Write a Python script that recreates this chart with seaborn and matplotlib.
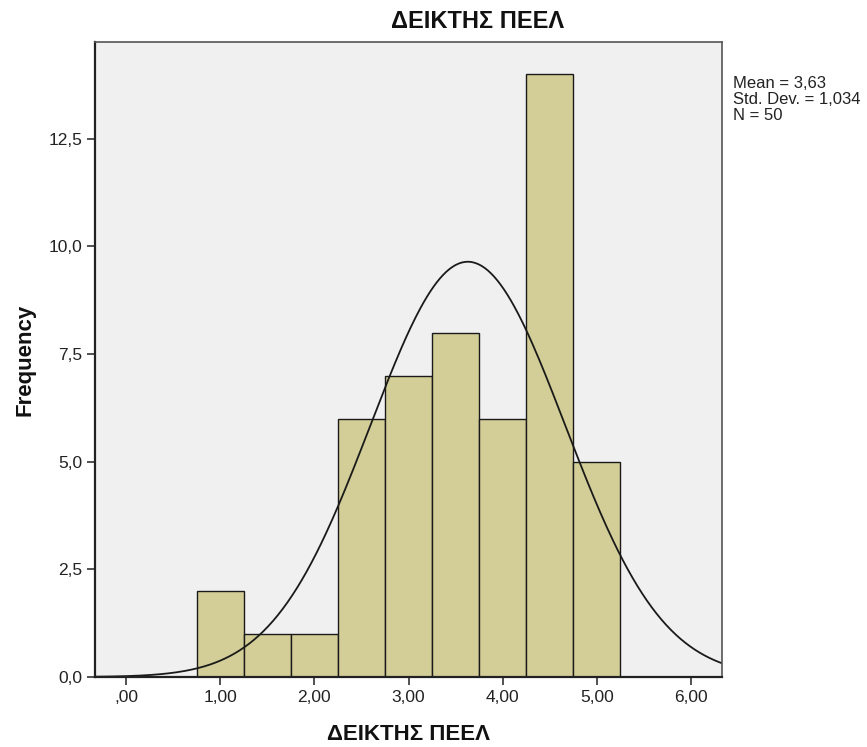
import numpy as np
import pandas as pd
import seaborn as sns
from matplotlib import pyplot as plt
from matplotlib.ticker import FuncFormatter

# bin centres and counts
centres = [1.0, 1.5, 2.0, 2.5, 3.0, 3.5, 4.0, 4.5, 5.0]
counts = [2, 1, 1, 6, 7, 8, 6, 14, 5]
edges = [0.75, 1.25, 1.75, 2.25, 2.75, 3.25, 3.75, 4.25, 4.75, 5.25]
mean, sd, n = 3.63, 1.034, 50

sns.set_style("white")
plt.rcParams['font.family'] = ['Liberation Sans', 'DejaVu Sans']

fig = plt.figure(figsize=(8.67, 7.47), dpi=100)
ax = fig.add_axes([95/867, 70/747, 627/867, 635/747])
ax.set_facecolor("#f0f0f0")

df = pd.DataFrame({"x": centres, "w": counts})
sns.histplot(data=df, x="x", weights="w", bins=edges, ax=ax,
             color="#d3ce97", alpha=1, edgecolor="#1a1a1a", linewidth=1)

xs = np.linspace(-0.4, 6.4, 400)
ys = n * 0.5 * np.exp(-0.5 * ((xs - mean) / sd) ** 2) / (sd * np.sqrt(2 * np.pi))
sns.lineplot(x=xs, y=ys, ax=ax, color="#1a1a1a", linewidth=1.3)

ax.set_xlim(-0.33, 6.33)
ax.set_ylim(0, 14.75)
ax.set_xticks([0, 1, 2, 3, 4, 5, 6])
ax.set_yticks([0, 2.5, 5, 7.5, 10, 12.5])


def xfmt(v, pos):
    s = f"{v:.2f}".replace(".", ",")
    return s[1:] if s.startswith("0") else s


ax.xaxis.set_major_formatter(FuncFormatter(xfmt))
ax.yaxis.set_major_formatter(FuncFormatter(lambda v, p: f"{v:.1f}".replace(".", ",")))
ax.tick_params(axis="both", direction="out", length=6, width=1.2, colors="#333333",
               labelsize=12.5, labelcolor="#222222", bottom=True, left=True, pad=3)

for side in ["left", "bottom"]:
    ax.spines[side].set_color("#222222")
    ax.spines[side].set_linewidth(1.6)
for side in ["top", "right"]:
    ax.spines[side].set_color("#555555")
    ax.spines[side].set_linewidth(1.2)

fig.text(478/867, 1 - 21/747, "ΔΕΙΚΤΗΣ ΠΕΕΛ", fontsize=17, fontweight="bold",
         ha="center", va="center", color="#111111")
ax.set_xlabel("ΔΕΙΚΤΗΣ ΠΕΕΛ", fontsize=16, fontweight="bold", color="#111111")
ax.set_ylabel("Frequency", fontsize=16, fontweight="bold", color="#111111")
ax.xaxis.set_label_coords(0.5, (677 - 734) / 635)
ax.yaxis.set_label_coords((25 - 95) / 627, 0.5)
ax.xaxis.label.set_va("center")
ax.yaxis.label.set_va("center")

fig.text(733/867, 1 - 76/747, "Mean = 3,63\nStd. Dev. = 1,034\nN = 50",
         fontsize=12, va="top", ha="left", linespacing=1.1, color="#222222")

plt.savefig("out.png", dpi=100)
plt.close()
